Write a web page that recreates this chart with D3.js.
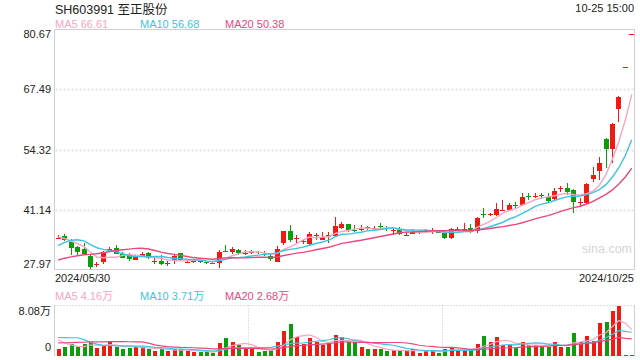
<!DOCTYPE html>
<html><head><meta charset="utf-8">
<script src="https://cdn.jsdelivr.net/npm/d3@7/dist/d3.min.js"></script>
<style>body{margin:0;background:#fff;} svg{display:block;font-family:"Liberation Sans", Arial, "Noto Sans CJK SC", sans-serif;}</style>
</head><body><svg id="c" width="640" height="360"></svg>
<script>
const title = "SH603991 至正股份";
const timeLabel = "10-25 15:00";
const dateLabels = ["2024/05/30", "2024/10/25"];
const priceTicks = [80.67, 67.49, 54.32, 41.14, 27.97];
const volTicks = [8.08, 0];
const volTickLabels = ["8.08万", "0"];
const maNames = ["MA5", "MA10", "MA20"];
const maPeriods = [5, 10, 20];
const priceMaLegend = ["66.61", "56.68", "50.38"];
const volMaLegend = ["4.16万", "3.71万", "2.68万"];

const open = [34.85,35.41,34.16,33.00,32.56,31.10,29.20,29.65,32.35,32.85,31.40,31.25,30.16,31.10,31.76,29.90,29.94,29.40,30.16,31.60,
 29.70,29.75,29.90,29.80,29.45,29.40,32.10,31.95,32.40,31.65,31.75,31.90,31.50,31.10,29.80,33.80,36.50,34.70,34.20,33.60,
 35.50,34.50,35.10,35.40,37.10,38.00,36.80,36.75,37.30,37.05,37.50,37.15,36.65,36.90,35.55,35.85,36.35,36.45,36.35,36.30,
 36.13,34.90,36.80,36.90,37.09,36.40,40.20,40.10,40.00,41.00,41.09,42.20,42.18,44.20,44.15,44.40,44.00,43.43,45.80,45.97,
 45.46,42.70,42.69,47.80,49.68,56.62,54.43,63.11,72.29,79.51];
const close = [34.95,34.53,32.71,31.97,31.40,28.70,29.30,31.84,32.50,31.53,30.66,30.38,31.10,31.47,30.53,30.00,29.35,29.50,31.03,30.16,
 29.80,29.85,29.85,29.60,29.40,31.90,31.95,32.60,31.60,31.75,31.85,31.80,31.40,30.30,32.60,36.40,34.50,34.90,34.30,35.80,
 35.60,35.20,35.60,37.60,38.00,36.70,36.70,36.85,37.20,37.15,37.40,37.10,36.75,35.80,35.65,36.50,36.45,36.55,36.45,36.20,
 35.03,36.87,36.90,37.00,36.21,39.41,40.10,40.20,41.31,41.10,42.18,42.10,44.00,44.10,44.25,44.30,43.12,45.25,45.90,44.96,
 42.91,42.80,46.78,48.74,51.43,54.43,59.83,65.87,72.29,79.51];
const high = [35.60,35.78,34.68,33.20,33.87,31.30,29.80,32.10,33.10,33.40,31.90,31.60,31.30,31.80,31.90,30.70,31.20,29.90,31.40,31.70,
 30.20,30.40,30.00,30.00,29.80,32.30,33.40,32.90,32.50,32.30,32.40,32.20,32.20,31.40,33.20,36.60,37.90,35.60,34.80,36.30,
 36.10,36.20,36.20,39.50,38.50,38.00,37.80,37.80,37.60,37.60,38.20,37.60,37.20,37.30,36.30,37.00,36.80,37.00,37.10,36.50,
 36.50,37.10,37.40,38.20,38.10,39.60,41.46,40.50,42.56,43.28,42.70,42.77,44.74,44.87,44.87,44.74,44.74,45.84,46.34,47.06,
 45.62,43.65,47.00,50.43,52.61,56.77,60.05,66.08,72.29,79.51];
const low = [34.85,34.38,31.25,31.10,31.30,28.20,28.60,29.30,32.00,31.40,30.60,29.90,30.10,30.90,30.30,29.20,29.10,28.80,29.20,30.10,
 29.60,29.60,29.60,29.30,29.20,28.50,31.90,31.50,31.20,31.20,31.40,31.40,31.10,30.00,29.70,33.40,34.20,33.80,33.60,33.20,
 34.50,34.50,33.90,35.40,36.90,36.30,36.20,36.40,36.80,36.50,37.10,36.60,35.60,35.70,35.40,35.80,35.80,36.20,35.90,36.00,
 34.75,34.85,36.70,36.60,36.00,36.10,39.28,39.70,39.84,40.87,41.00,41.46,41.97,43.28,43.65,43.43,42.90,43.28,45.09,44.37,
 40.50,41.81,42.40,47.28,47.65,50.34,51.43,60.40,72.29,79.51];
const volume = [0.97,1.34,1.78,1.34,1.78,2.26,1.18,1.50,2.15,1.34,1.08,1.18,1.34,1.45,1.08,0.69,0.97,0.69,1.08,0.97,
 0.69,0.53,0.53,0.53,0.37,1.99,2.80,2.26,1.62,1.08,1.08,0.53,0.65,0.81,2.26,3.93,5.01,3.07,1.78,2.80,
 2.15,1.70,1.94,3.39,3.07,2.15,2.15,1.45,0.97,0.97,0.97,0.65,0.81,0.81,0.65,1.08,0.48,0.69,0.81,0.48,
 1.08,1.34,0.81,0.81,0.81,1.78,3.23,2.26,3.07,1.62,1.73,1.18,2.26,1.62,1.62,1.45,1.45,2.26,1.45,1.45,
 3.60,2.15,3.23,2.42,5.22,5.38,7.16,8.08,0.16,0.16];
// sessions before the visible window (only used to seed the moving averages)
const priorClose = [26.8,27.0,26.9,27.1,27.0,26.8,27.2,27.1,27.0,27.4,27.6,28.0,30.8,33.9,36.7,36.2,35.5,34.9,34.45];
const priorVolume = [1.13,1.29,0.97,1.13,1.29,1.13,1.45,1.13,1.29,1.13,1.62,1.94,1.29,4.85,6.71,4.04,3.23,2.42,2.02];

const UP = "#f01a12", DOWN = "#0b9d0b";
const MA_COLORS = ["#f7a6c2", "#3ec3e2", "#e9487f"];
const TEXT = "#222";

const svg = d3.select("#c");
const n = close.length;
const L = 54.5, R = 634.5, PT = 29.5, PB = 269.5, VT = 305.5, VB = 355.5;

const x = d3.scaleBand().domain(d3.range(n)).range([55, 635]).padding(0);
const cx = i => x(i) + x.bandwidth() / 2;
const y = d3.scaleLinear().domain([27.97, 80.67]).range([270, 29]);
const yv = d3.scaleLinear().domain([0, volMax()]).range([355.5, 305.5]);
function volMax(){ return volTicks[0]; }

function movingAvg(prior, vals, p) {
  const all = prior.concat(vals), off = prior.length;
  return vals.map((_, i) => d3.mean(all.slice(off + i - p + 1, off + i + 1)));
}

// ---------- header ----------
svg.append("text").attr("x", 55).attr("y", 14).attr("font-size", 12.5).attr("fill", TEXT).text(title);
svg.append("text").attr("x", 634).attr("y", 12).attr("text-anchor", "end").attr("font-size", 11).attr("fill", TEXT).text(timeLabel);
const legX = [55, 140, 225];
maNames.forEach((m, k) => {
  svg.append("text").attr("x", legX[k]).attr("y", 27.5).attr("font-size", 11).attr("fill", MA_COLORS[k]).text(m + " " + priceMaLegend[k]);
  svg.append("text").attr("x", legX[k]).attr("y", 299.5).attr("font-size", 11).attr("fill", MA_COLORS[k]).text(m + " " + volMaLegend[k]);
});

// ---------- price panel ----------
svg.append("defs").append("clipPath").attr("id", "pclip").append("rect")
  .attr("x", L).attr("y", PT).attr("width", R - L).attr("height", PB - PT);
svg.append("defs").append("clipPath").attr("id", "vclip").append("rect")
  .attr("x", L).attr("y", VT - 1).attr("width", R - L).attr("height", VB - VT + 1);

svg.append("g").selectAll("line").data(priceTicks.slice(1, -1)).join("line")
  .attr("x1", L + 1).attr("x2", R - 1).attr("y1", d => Math.round(y(d)) + 0.5).attr("y2", d => Math.round(y(d)) + 0.5)
  .attr("stroke", "#e2e2e2").attr("stroke-width", 2).attr("stroke-dasharray", "2,2");

svg.append("text").attr("x", 582).attr("y", 253).attr("font-size", 12.5).attr("fill", "#d6d6d6").text("sina.com");

svg.append("g").selectAll("text").data(priceTicks).join("text")
  .attr("x", 51).attr("text-anchor", "end").attr("font-size", 11).attr("fill", TEXT)
  .attr("y", (d, i) => i === 0 ? y(d) + 8.5 : (i === priceTicks.length - 1 ? y(d) - 2.5 : y(d) + 4))
  .text(d => d.toFixed(2));

const candles = svg.append("g").attr("clip-path", "url(#pclip)").attr("shape-rendering", "crispEdges");
const idx = d3.range(n);
const col = i => close[i] >= open[i] ? UP : DOWN;
candles.selectAll("line").data(idx).join("line")
  .attr("x1", i => Math.floor(cx(i)) + 0.5).attr("x2", i => Math.floor(cx(i)) + 0.5)
  .attr("y1", i => y(high[i])).attr("y2", i => y(low[i]))
  .attr("stroke", col).attr("stroke-width", 1);
candles.selectAll("rect").data(idx).join("rect")
  .attr("x", i => Math.floor(cx(i)) - 2).attr("width", 5)
  .attr("y", i => y(Math.max(open[i], close[i])))
  .attr("height", i => Math.max(1, Math.abs(y(open[i]) - y(close[i]))))
  .attr("fill", col);

const maG = svg.append("g").attr("clip-path", "url(#pclip)");
maPeriods.forEach((p, k) => {
  const ma = movingAvg(priorClose, close, p);
  maG.append("path").datum(ma)
    .attr("d", d3.line().x((d, i) => cx(i)).y(d => y(d)))
    .attr("fill", "none").attr("stroke", MA_COLORS[k]).attr("stroke-width", 1.4);
});

svg.append("rect").attr("x", L).attr("y", PT).attr("width", R - L).attr("height", PB - PT)
  .attr("fill", "none").attr("stroke", "#cfcfcf").attr("stroke-width", 1);

// date labels
svg.append("text").attr("x", 55).attr("y", 281.5).attr("font-size", 11).attr("fill", TEXT).text(dateLabels[0]);
svg.append("text").attr("x", 634).attr("y", 281.5).attr("text-anchor", "end").attr("font-size", 11).attr("fill", TEXT).text(dateLabels[1]);

// ---------- volume panel ----------
const vg = svg.append("g");
[VT, VB].forEach(yy => vg.append("line").attr("x1", L).attr("x2", R).attr("y1", yy).attr("y2", yy)
  .attr("stroke", "#bdbdbd").attr("stroke-dasharray", "1,2"));
[30, 60].forEach(i => vg.append("line").attr("x1", Math.round(x(i)) + 0.5).attr("x2", Math.round(x(i)) + 0.5)
  .attr("y1", VT).attr("y2", VB).attr("stroke", "#c4c4c4").attr("stroke-dasharray", "1,2"));
[L, R].forEach(xx => vg.append("line").attr("x1", xx).attr("x2", xx).attr("y1", VT).attr("y2", VB)
  .attr("stroke", "#d0d0d0"));

svg.append("g").attr("shape-rendering", "crispEdges").selectAll("rect").data(idx).join("rect")
  .attr("x", i => Math.floor(cx(i)) - 1.5).attr("width", 4)
  .attr("y", i => yv(volume[i])).attr("height", i => Math.max(1, yv(0) - yv(volume[i])))
  .attr("fill", col);

const vmaG = svg.append("g").attr("clip-path", "url(#vclip)");
maPeriods.forEach((p, k) => {
  const ma = movingAvg(priorVolume, volume, p);
  vmaG.append("path").datum(ma)
    .attr("d", d3.line().x((d, i) => cx(i)).y(d => yv(d)))
    .attr("fill", "none").attr("stroke", MA_COLORS[k]).attr("stroke-width", 1.2);
});

svg.append("g").selectAll("text").data(volTicks).join("text")
  .attr("x", 51).attr("text-anchor", "end").attr("font-size", 11).attr("fill", TEXT)
  .attr("y", (d, i) => i === 0 ? yv(d) + 9 : yv(d) - 4.5)
  .text((d, i) => volTickLabels[i]);
</script></body></html>
